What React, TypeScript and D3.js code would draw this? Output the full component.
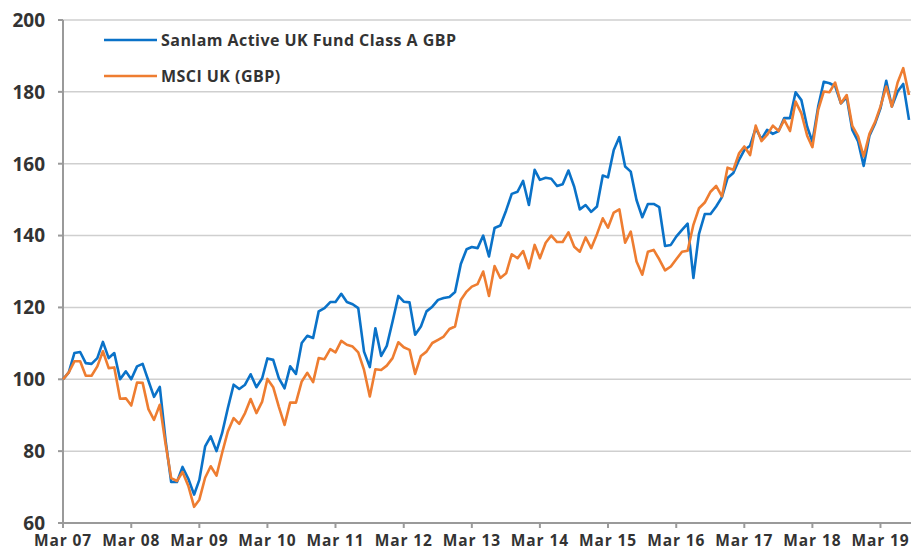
import React from "react";
import * as d3 from "d3";

const startYear = 2007;
const startMonth = 2; // March (0-based)

const fundValues: number[] = [
  100, 101.9, 107.3, 107.6, 104.5, 104.3, 105.9, 110.4, 105.9, 107.3, 100, 102.2,
  100, 103.6, 104.3, 99.6, 95.1, 97.9, 83, 71.4, 71.4, 75.6, 72.3, 67.9,
  72, 81.3, 84.1, 80, 85, 92, 98.5, 97.3, 98.5, 101.4, 97.8, 100.3,
  105.8, 105.4, 100.3, 97.5, 103.6, 101.5, 110.1, 112.1, 111.5, 118.9, 119.8, 121.5,
  121.5, 123.8, 121.5, 120.9, 119.8, 107.7, 103.4, 114.2, 106.5, 109.3, 116.1, 123.2,
  121.6, 121.4, 112.4, 114.7, 118.9, 120.2, 122.1, 122.6, 122.9, 124.3, 132.1, 136.2,
  136.8, 136.5, 140, 134.2, 142.1, 142.8, 147, 151.6, 152.2, 155.2, 148.5, 158.3,
  155.5, 156.1, 155.8, 153.8, 154.3, 158.1, 153.6, 147.3, 148.5, 146.6, 148.1, 156.7,
  156.2, 163.8, 167.4, 159.2, 157.8, 149.9, 145.1, 148.8, 148.8, 147.9, 137.1, 137.4,
  139.7, 141.6, 143.3, 128.2, 140.5, 146, 146, 148.1, 150.7, 156, 157.4, 161.1,
  163.8, 165, 169.9, 166.8, 169.4, 168.3, 169.1, 172.7, 172.7, 179.9, 177.7, 170.3,
  166.1, 175.9, 182.8, 182.4, 181.6, 176.8, 178.5, 169.4, 166.2, 159.4, 167.8, 171.3,
  175.4, 183.1, 175.9, 180.1, 182.2, 172.2,
];

const indexValues: number[] = [
  100, 101.9, 105, 105, 101, 101, 103.6, 107.8, 103.1, 103.3, 94.6, 94.7,
  92.7, 99.1, 99, 91.7, 88.7, 92.9, 82, 72.5, 71.7, 74.2, 70.3, 64.5,
  66.5, 72.6, 75.8, 73.2, 79.5, 85.5, 89.2, 87.6, 90.6, 94.5, 90.6, 93.8,
  100.1, 97.8, 92.4, 87.3, 93.5, 93.5, 99.4, 101.8, 99.2, 105.9, 105.6, 108.4,
  107.5, 110.7, 109.6, 109.1, 107.5, 102.6, 95.2, 102.8, 102.6, 103.8, 105.9, 110.3,
  108.9, 108.2, 101.5, 106.5, 107.7, 110.1, 111, 111.9, 114, 114.7, 122.1, 124.4,
  125.8, 126.5, 130, 123.2, 131.5, 128.2, 129.5, 134.8, 133.7, 135.7, 130.9, 137.4,
  133.7, 138, 140, 138.2, 138.2, 140.9, 136.9, 135.5, 139.5, 136.5, 140.4, 144.8,
  142.2, 146.4, 147.3, 138, 141.1, 132.8, 129.1, 135.5, 136, 133.4, 130.3, 131.4,
  133.4, 135.5, 135.8, 143, 147.6, 149.2, 152.2, 153.8, 150.9, 158.9, 158.3, 162.9,
  164.8, 162.4, 170.6, 166.3, 168, 170.6, 169.1, 172.2, 169.1, 177.3, 174, 167.8,
  164.6, 175, 180.1, 179.9, 182.6, 176.8, 179.1, 170.5, 167.6, 162, 168.3, 171.7,
  175.9, 181.5, 175.9, 182.6, 186.6, 179.1,
];

const seriesNames = ["Sanlam Active UK Fund Class A GBP", "MSCI UK (GBP)"];
const seriesColors = ["#0A72C8", "#EE7D31"];
const yTicks = [60, 80, 100, 120, 140, 160, 180, 200];
const xTickYears = [2007, 2008, 2009, 2010, 2011, 2012, 2013, 2014, 2015, 2016, 2017, 2018, 2019];

const W = 911;
const H = 550;
const left = 63;
const right = 909;
const top = 20;
const bottom = 523;
const font = "'Open Sans', sans-serif";

export default function App() {
  const dates = fundValues.map((_, i) => new Date(startYear, startMonth + i, 1));
  const x = d3
    .scaleTime()
    .domain([dates[0], dates[dates.length - 1]])
    .range([left, right]);
  const y = d3.scaleLinear().domain([60, 200]).range([bottom, top]);

  const line = d3
    .line<number>()
    .x((_, i) => x(dates[i]))
    .y((d) => y(d));

  const series = [fundValues, indexValues];

  return (
    <svg width={W} height={H} style={{ position: "absolute", left: 0, top: 0, background: "#fff" }}>
      {/* gridlines */}
      {yTicks
        .filter((t) => t > 60)
        .map((t) => (
          <line key={"g" + t} x1={left} x2={W} y1={y(t)} y2={y(t)} stroke="#cfcfcf" strokeWidth={1.5} />
        ))}
      {/* y axis */}
      <line x1={left} x2={left} y1={top} y2={bottom} stroke="#9a9a9a" strokeWidth={2} />
      {yTicks.map((t) => (
        <g key={"yt" + t}>
          <line x1={left - 5} x2={left} y1={y(t)} y2={y(t)} stroke="#9a9a9a" strokeWidth={2} />
          <text
            x={45}
            y={y(t)}
            dy="0.36em"
            textAnchor="end"
            fontFamily={font}
            fontWeight={700}
            fontSize={19}
            fill="#333"
          >
            {t}
          </text>
        </g>
      ))}
      {/* x axis */}
      <line x1={left - 5} x2={W} y1={bottom} y2={bottom} stroke="#9a9a9a" strokeWidth={2} />
      {xTickYears.map((yr) => {
        const xx = x(new Date(yr, 2, 1));
        return (
          <g key={"xt" + yr}>
            <line x1={xx} x2={xx} y1={bottom} y2={bottom + 5} stroke="#9a9a9a" strokeWidth={2} />
            <text
              x={xx}
              y={545.5}
              textAnchor="middle"
              fontFamily={font}
              fontWeight={700}
              fontSize={15.5}
              letterSpacing={0.9}
              fill="#333"
            >
              {"Mar " + String(yr % 100).padStart(2, "0")}
            </text>
          </g>
        );
      })}
      {/* lines */}
      {series.map((s, k) => (
        <path
          key={"s" + k}
          d={line(s) || ""}
          fill="none"
          stroke={seriesColors[k]}
          strokeWidth={2.6}
          strokeLinejoin="round"
        />
      ))}
      {/* legend */}
      {seriesNames.map((n, k) => (
        <g key={"lg" + k}>
          <line x1={104} x2={157} y1={40 + k * 36} y2={40 + k * 36} stroke={seriesColors[k]} strokeWidth={2.6} />
          <text
            x={161}
            y={40 + k * 36}
            dy="0.36em"
            fontFamily={font}
            fontWeight={700}
            fontSize={16}
            letterSpacing={0.45}
            fill="#333"
          >
            {n}
          </text>
        </g>
      ))}
    </svg>
  );
}
